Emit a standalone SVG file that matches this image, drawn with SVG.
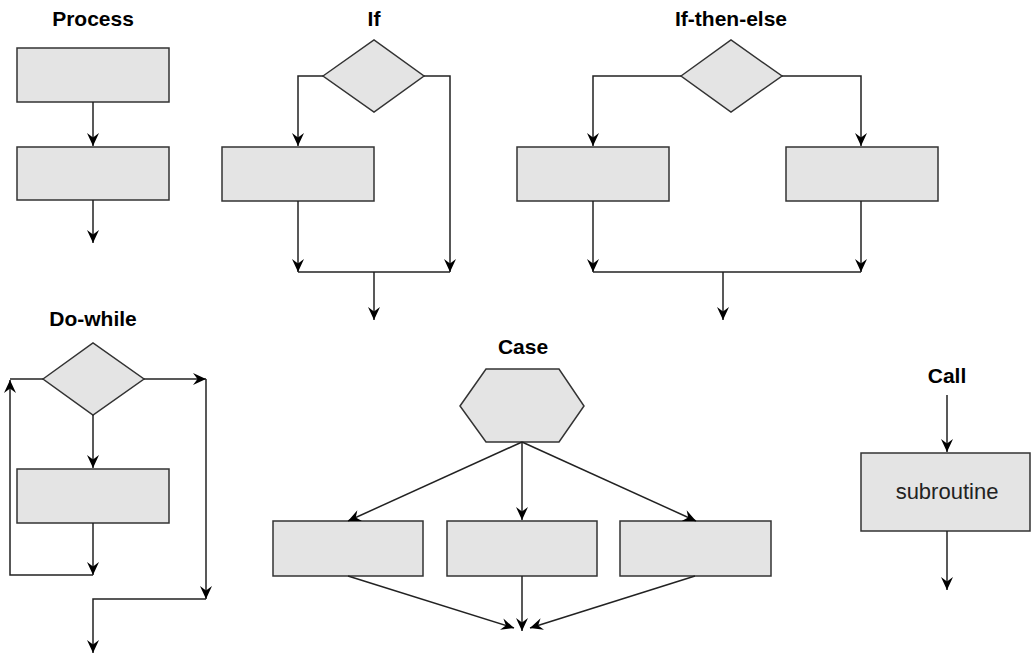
<svg xmlns="http://www.w3.org/2000/svg" width="1031" height="655" viewBox="0 0 1031 655">
<defs>
<marker id="ah" markerUnits="userSpaceOnUse" markerWidth="15" markerHeight="14" refX="13" refY="7" orient="auto">
<path d="M0,1 L13,7 L0,13 L4.5,7 z" fill="#000"/>
</marker>
<style>
.n{fill:#e4e4e4;stroke:#333;stroke-width:1.5}
.c{fill:none;stroke:#222;stroke-width:1.5}
.a{marker-end:url(#ah)}
.t{font-family:"Liberation Sans",Arial,sans-serif;font-weight:bold;font-size:21px;text-anchor:middle;fill:#000}
.l{font-family:"Liberation Sans",Arial,sans-serif;font-size:22px;text-anchor:middle;fill:#222}
</style>
</defs>
<g id="titles">
<text class="t" x="93" y="26">Process</text>
<text class="t" x="374" y="26">If</text>
<text class="t" x="731" y="26">If-then-else</text>
<text class="t" x="93" y="326">Do-while</text>
<text class="t" x="523" y="354">Case</text>
<text class="t" x="947" y="383">Call</text>
</g>
<g id="process">
<rect id="p1" class="n" x="17" y="48" width="152" height="54"/>
<rect id="p2" class="n" x="17" y="147" width="152" height="53"/>
</g>
<g id="if">
<polygon id="if-d" class="n" points="323,76 374,40 424,76 374,112"/>
<rect id="if-b" class="n" x="222" y="147" width="152" height="54"/>
</g>
<g id="ite">
<polygon id="ite-d" class="n" points="681,76 731,40 782,76 731,112"/>
<rect id="ite-b1" class="n" x="517" y="147" width="152" height="54"/>
<rect id="ite-b2" class="n" x="786" y="147" width="152" height="54"/>
</g>
<g id="dowhile">
<polygon id="dw-d" class="n" points="43,379 93,343 144,379 93,415"/>
<rect id="dw-b" class="n" x="17" y="469" width="152" height="54"/>
</g>
<g id="case">
<polygon id="case-h" class="n" points="460,406 486,369 559,369 584,406 559,442 486,442"/>
<rect id="case-b1" class="n" x="273" y="521" width="150" height="55"/>
<rect id="case-b2" class="n" x="447" y="521" width="150" height="55"/>
<rect id="case-b3" class="n" x="620" y="521" width="151" height="55"/>
</g>
<g id="call">
<rect id="call-b" class="n" x="861" y="453" width="169" height="78"/>
<text class="l" x="947" y="499">subroutine</text>
</g>
<g id="connectors">
<line class="c a" x1="93" y1="102" x2="93" y2="146"/>
<line class="c a" x1="93" y1="200" x2="93" y2="243"/>

<polyline class="c a" points="323,76 298,76 298,146"/>
<polyline class="c a" points="424,76 450,76 450,272"/>
<line class="c a" x1="298" y1="201" x2="298" y2="272"/>
<line class="c" x1="298" y1="272" x2="450" y2="272"/>
<line class="c a" x1="374" y1="272" x2="374" y2="320"/>

<polyline class="c a" points="681,76 593,76 593,146"/>
<polyline class="c a" points="782,76 861,76 861,146"/>
<line class="c a" x1="593" y1="201" x2="593" y2="272"/>
<line class="c a" x1="861" y1="201" x2="861" y2="272"/>
<line class="c" x1="593" y1="272" x2="861" y2="272"/>
<line class="c a" x1="723" y1="272" x2="723" y2="320"/>

<line class="c a" x1="93" y1="415" x2="93" y2="468"/>
<line class="c a" x1="93" y1="523" x2="93" y2="575"/>
<polyline class="c a" points="93,575 10,575 10,380"/>
<line class="c" x1="10" y1="379" x2="43" y2="379"/>
<line class="c a" x1="144" y1="379" x2="206" y2="379"/>
<polyline class="c a" points="206,379 206,599"/>
<polyline class="c a" points="206,599 93,599 93,653"/>

<line class="c a" x1="522" y1="442" x2="348" y2="521"/>
<line class="c a" x1="522" y1="442" x2="522" y2="520"/>
<line class="c a" x1="522" y1="442" x2="696" y2="521"/>
<line class="c a" x1="348" y1="576" x2="514" y2="628"/>
<line class="c a" x1="522" y1="576" x2="522" y2="631"/>
<line class="c a" x1="695" y1="576" x2="530" y2="628"/>

<line class="c a" x1="947" y1="395" x2="947" y2="452"/>
<line class="c a" x1="947" y1="531" x2="947" y2="590"/>
</g>
</svg>
